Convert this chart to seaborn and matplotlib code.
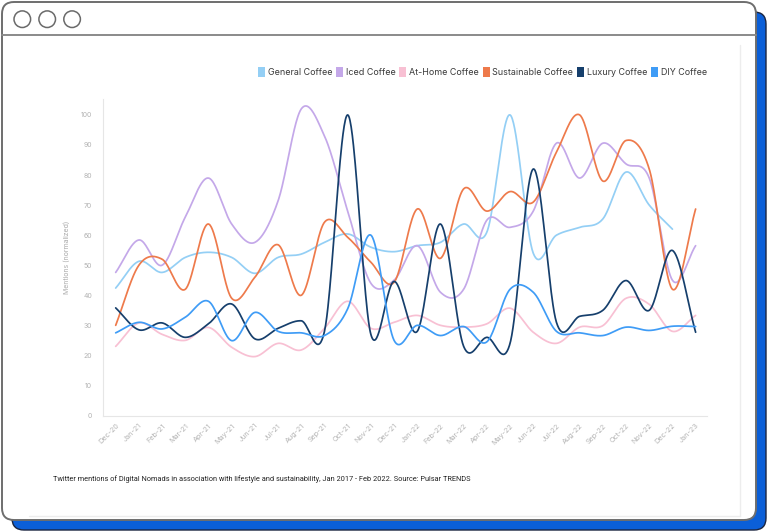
import numpy as np
import pandas as pd
import matplotlib
matplotlib.use("Agg")
import matplotlib.pyplot as plt
import matplotlib.patches as mpatches
from matplotlib.patches import FancyBboxPatch, Circle
import seaborn as sns

sns.set_theme(style="white")
plt.rcParams['font.family'] = ['Inter', 'DejaVu Sans']

months = ["Dec-20", "Jan-21", "Feb-21", "Mar-21", "Apr-21", "May-21", "Jun-21", "Jul-21",
          "Aug-21", "Sep-21", "Oct-21", "Nov-21", "Dec-21", "Jan-22", "Feb-22", "Mar-22",
          "Apr-22", "May-22", "Jun-22", "Jul-22", "Aug-22", "Sep-22", "Oct-22", "Nov-22",
          "Dec-22", "Jan-23"]

general = [42.4, 51.3, 47.6, 52.6, 54.3, 52.6, 47.3, 52.6, 53.7, 57.6, 60.4, 56.0, 54.5,
           56.5, 57.6, 63.7, 61.0, 100.0, 54.0, 60.0, 62.6, 65.4, 81.0, 70.0, 62.0, np.nan]
iced = [47.6, 58.4, 50.0, 66.0, 79.0, 63.7, 57.6, 71.4, 102.0, 93.0, 68.0, 44.0, 45.0,
        56.5, 41.0, 42.0, 65.0, 62.6, 68.0, 90.6, 79.0, 90.6, 83.7, 79.0, 45.0, 56.5]
at_home = [23.0, 30.8, 27.0, 25.0, 29.3, 22.7, 19.6, 24.0, 21.8, 29.0, 38.0, 29.0, 31.0,
           33.3, 30.0, 29.4, 30.5, 35.7, 27.7, 24.0, 29.4, 29.9, 39.0, 37.0, 28.0, 33.3]
sustainable = [30.0, 50.0, 52.0, 42.0, 63.7, 39.0, 46.0, 56.8, 40.0, 64.3, 59.3, 51.0, 44.3,
               68.7, 52.3, 75.4, 68.0, 74.5, 71.0, 87.6, 100.0, 78.0, 91.5, 82.0, 42.0, 68.7]
luxury = [35.8, 28.5, 30.8, 26.0, 30.5, 37.1, 25.5, 29.0, 31.5, 28.0, 100.0, 27.0, 44.6,
          28.0, 63.7, 23.0, 26.0, 24.0, 82.0, 31.0, 33.0, 35.0, 44.9, 35.0, 54.9, 27.7]
diy = [27.5, 31.0, 28.8, 32.7, 38.0, 24.9, 34.3, 28.0, 27.5, 26.6, 35.5, 60.0, 25.0,
       30.0, 26.6, 29.6, 24.5, 42.0, 41.0, 28.0, 27.5, 26.6, 29.4, 28.3, 29.7, 29.6]

series_names = ["General Coffee", "Iced Coffee", "At-Home Coffee", "Sustainable Coffee",
                "Luxury Coffee", "DIY Coffee"]
series_values = [general, iced, at_home, sustainable, luxury, diy]
colors = ["#94cff5", "#c4a8e9", "#f8c0d3", "#ee7a4b", "#163f6c", "#3f9cf6"]
yticks = [0, 10, 20, 30, 40, 50, 60, 70, 80, 90, 100]


def smooth(xs, ys, n=40):
    xs = np.asarray(xs, float)
    ys = np.asarray(ys, float)
    ok = ~np.isnan(ys)
    xs, ys = xs[ok], ys[ok]
    m = np.gradient(ys, xs)
    ox, oy = [], []
    for i in range(len(xs) - 1):
        h = xs[i + 1] - xs[i]
        t = np.linspace(0, 1, n, endpoint=(i == len(xs) - 2))
        h00 = 2 * t**3 - 3 * t**2 + 1
        h10 = t**3 - 2 * t**2 + t
        h01 = -2 * t**3 + 3 * t**2
        h11 = t**3 - t**2
        oy.append(h00 * ys[i] + h10 * h * m[i] + h01 * ys[i + 1] + h11 * h * m[i + 1])
        ox.append(xs[i] + t * h)
    return np.concatenate(ox), np.concatenate(oy)


frames = []
xidx = np.arange(len(months))
for name, vals in zip(series_names, series_values):
    sx, sy = smooth(xidx, vals)
    frames.append(pd.DataFrame({"x": sx, "y": sy, "series": name}))
df = pd.concat(frames, ignore_index=True)

W, H = 768, 532
fig = plt.figure(figsize=(W / 100, H / 100), dpi=100)
fig.patch.set_facecolor("white")

# decoration layer (pixel coords)
bg = fig.add_axes([0, 0, 1, 1], zorder=0)
bg.set_xlim(0, W)
bg.set_ylim(H, 0)
bg.axis("off")
bg.add_patch(FancyBboxPatch((12, 12), 754, 518, boxstyle="round,pad=0,rounding_size=12",
                            facecolor="#0b5fd8", edgecolor="#1b2540", lw=1.0))
bg.add_patch(FancyBboxPatch((2, 2), 754, 518, boxstyle="round,pad=0,rounding_size=12",
                            facecolor="white", edgecolor="#6e6e6e", lw=1.4))
bg.plot([2, 756], [35, 35], color="#8a8a8a", lw=1.4)
for cx in (22.3, 47.2, 72.1):
    bg.add_patch(Circle((cx, 19.2), 8.3, facecolor="white", edgecolor="#6a6a6a", lw=1.1))
bg.plot([29, 740], [515.5, 515.5], color="#ededed", lw=1.0)
bg.plot([740, 740], [45, 515.5], color="#ededed", lw=1.0)
bg.text(53, 479, "Twitter mentions of Digital Nomads in association with lifestyle and "
        "sustainability, Jan 2017 - Feb 2022. Source: Pulsar TRENDS",
        fontsize=5.35, color="#222222", va="center", ha="left", family="Roboto")

# chart axes
left, right, top, bottom = 103.3, 707.0, 99.0, 415.5
ax = fig.add_axes([left / W, 1 - bottom / H, (right - left) / W, (bottom - top) / H], zorder=2)
ax.patch.set_alpha(0)
sns.lineplot(data=df, x="x", y="y", hue="series", hue_order=series_names,
             palette=dict(zip(series_names, colors)), estimator=None, sort=False,
             legend=False, lw=1.25, ax=ax)
ax.set_xlim(-0.534, len(months) - 1 + 0.49)
ax.set_ylim(0, 105.3)
ax.set_xticks(xidx)
ax.set_xticklabels(months, rotation=45, ha="right", rotation_mode="anchor",
                   fontsize=5.2, color="#b3b3b3")
ax.set_yticks(yticks)
ax.set_yticklabels([str(v) for v in yticks], fontsize=5.0, color="#b3b3b3")
ax.tick_params(axis="x", length=3, width=0.6, color="#e3e3e3", pad=2)
ax.tick_params(axis="y", length=0, pad=8)
ax.set_xlabel("")
ax.set_ylabel("Mentions (normalized)", fontsize=5.0, color="#ababab", labelpad=8)
for s in ("top", "right"):
    ax.spines[s].set_visible(False)
for s in ("left", "bottom"):
    ax.spines[s].set_color("#e6e6e6")
    ax.spines[s].set_linewidth(0.8)
ax.grid(False)

handles = [mpatches.Patch(facecolor=c, edgecolor="none", label=n)
           for n, c in zip(series_names, colors)]
fig.legend(handles=handles, loc="center right", bbox_to_anchor=(707 / W, 1 - 72 / H),
           ncol=6, frameon=False, fontsize=6.45, handlelength=0.8, handleheight=1.3,
           handletextpad=0.3, columnspacing=0.42, labelcolor="#3a3a3a",
           borderaxespad=0, borderpad=0)

fig.savefig("out.png", dpi=100, facecolor="white")
